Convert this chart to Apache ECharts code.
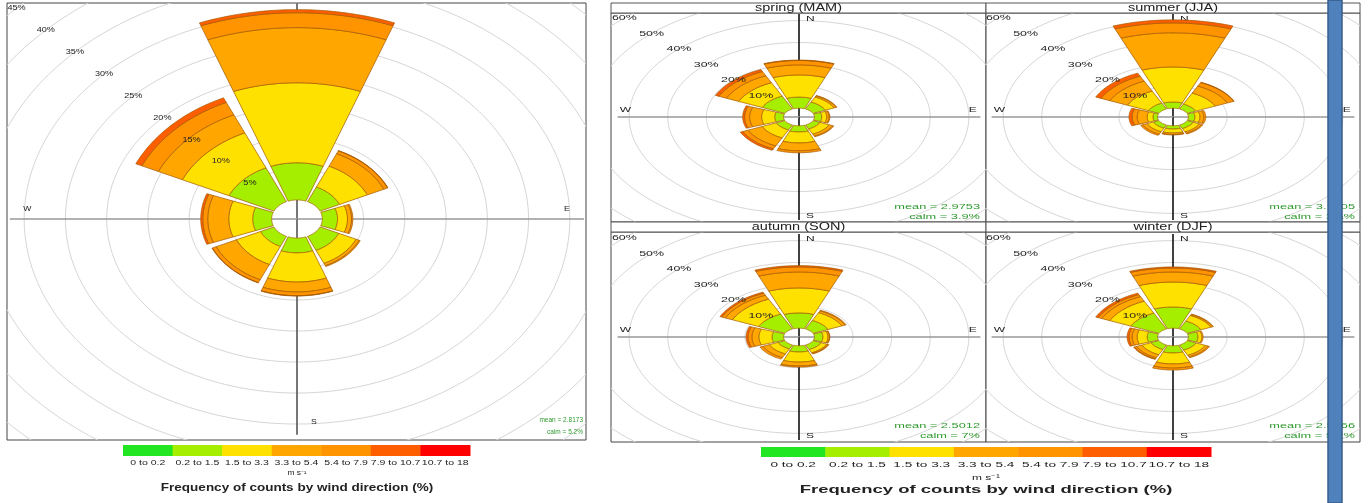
<!DOCTYPE html>
<html><head><meta charset="utf-8">
<script src="https://cdn.jsdelivr.net/npm/echarts@6/dist/echarts.min.js"></script>
<style>html,body{margin:0;padding:0;background:#fff}#c{width:1371px;height:503px}</style>
</head><body><div id="c"></div>
<script>
// ---------------- DATA ----------------
const directions = [0, 45, 90, 135, 180, 225, 270, 315]; // N NE E SE S SW W NW
const speedBins = ['0 to 0.2', '0.2 to 1.5', '1.5 to 3.3', '3.3 to 5.4', '5.4 to 7.9', '7.9 to 10.7', '10.7 to 18'];
const compassNames = ['N', 'E', 'S', 'W'];
const compassDirs = [0, 90, 180, 270];

// whole-year rose (% frequency per direction, by speed bin)
const all_0_02   = [0, 0, 0, 0, 0, 0, 0, 0];
const all_02_15  = [6.0, 2.6, 1.85, 2.5, 2.4, 1.8, 2.3, 6.0];
const all_15_33  = [12.9, 3.7, 1.2, 2.3, 4.7, 3.2, 2.9, 6.2];
const all_33_54  = [8.9, 2.2, 0.5, 0.4, 1.6, 2.7, 2.55, 3.2];
const all_54_79  = [2.4, 0.5, 0.15, 0.15, 0.6, 0.5, 0.6, 2.2];
const all_79_107 = [0.5, 0.05, 0, 0, 0.05, 0.05, 0.25, 0.8];

const spr_02_15  = [5.1, 3.5, 1.9, 2.0, 2.85, 2.5, 2.3, 6.5];
const spr_15_33  = [10.1, 2.5, 1.3, 2.6, 5.0, 4.0, 3.4, 6.7];
const spr_33_54  = [4.6, 0.6, 0.6, 1.0, 3.6, 4.0, 3.1, 3.5];
const spr_54_79  = [2.0, 0.2, 0.2, 0.3, 0.9, 1.5, 1.3, 2.1];
const spr_79_107 = [0.2, 0, 0, 0, 0, 0.7, 0.5, 1.0];

const sum_02_15  = [2.85, 2.5, 1.7, 1.8, 1.5, 1.6, 1.2, 3.0];
const sum_15_33  = [16.0, 5.5, 1.3, 1.7, 1.8, 1.8, 1.5, 6.0];
const sum_33_54  = [15.6, 3.5, 1.0, 0.7, 0.7, 1.2, 2.6, 5.0];
const sum_54_79  = [4.5, 1.8, 0.5, 0.3, 0.2, 0.6, 1.3, 2.5];
const sum_79_107 = [1.4, 0.1, 0, 0, 0, 0, 0.8, 1.5];

const aut_02_15  = [7.0, 4.3, 2.2, 2.3, 2.85, 2.0, 3.0, 7.5];
const aut_15_33  = [11.4, 3.9, 1.3, 1.6, 4.6, 2.5, 3.4, 7.5];
const aut_33_54  = [7.3, 0.9, 0.4, 0.4, 1.8, 1.8, 1.8, 2.0];
const aut_54_79  = [2.3, 0.3, 0.1, 0.2, 0.5, 0.8, 1.0, 1.0];
const aut_79_107 = [0.6, 0, 0, 0, 0, 0, 0.5, 0.5];

const win_02_15  = [9.7, 4.0, 2.5, 2.6, 3.3, 2.3, 2.7, 8.0];
const win_15_33  = [11.4, 2.8, 1.0, 2.6, 5.0, 2.6, 2.6, 6.0];
const win_33_54  = [4.6, 0.5, 0.3, 0.8, 1.9, 1.5, 1.3, 2.3];
const win_54_79  = [1.8, 0.2, 0, 0.4, 0.9, 0.6, 0.8, 1.0];
const win_79_107 = [0.5, 0, 0, 0, 0, 0.2, 0.5, 0.7];

const allRingLevels = [5, 10, 15, 20, 25, 30, 35, 40, 45, 50];
const allRingLabels = ['5%', '10%', '15%', '20%', '25%', '30%', '35%', '40%', '45%', '50%'];
const seasonRingLevels = [10, 20, 30, 40, 50, 60, 70];
const seasonRingLabels = ['10%', '20%', '30%', '40%', '50%', '60%', '70%'];

const seasonNames = ['spring (MAM)', 'summer (JJA)', 'autumn (SON)', 'winter (DJF)'];
const allMean = 'mean = 2.8173', allCalm = 'calm = 5.2%';
const seasonMeans = ['mean = 2.9753', 'mean = 3.1505', 'mean = 2.5012', 'mean = 2.5866'];
const seasonCalms = ['calm = 3.9%', 'calm = 3.6%', 'calm = 7%', 'calm = 5.2%'];
const legendTitle = 'Frequency of counts by wind direction (%)';
const unitLabel = 'm s\u207B\u00B9';

// ---------------- STYLE / LAYOUT ----------------
const binColors = ['#22e622', '#a6ee00', '#ffe100', '#ffa600', '#ff9400', '#ff5e00', '#ff0000'];
const HW = 20.5; // half sector width, degrees
const FONT = 'Liberation Sans, Arial, sans-serif';

const panels = [
  {box: [7, 3, 579, 437], c: [297, 219], sx: 8.25, sy: 6.2, off: 3.07, ext: 34.8, compR: 32.7,
   rings: allRingLevels, ringLabels: allRingLabels, ringFont: 6.5, ringScale: 1.4,
   compFont: 7.5, compScale: 1.15, nsDx: 14, weDy: 6, vColor: '#555', hColor: '#999',
   bins: [[0, all_0_02], [1, all_02_15], [2, all_15_33], [3, all_33_54], [4, all_54_79], [5, all_79_107]]},
  {box: [611, 13, 375, 209], c: [799, 117], sx: 3.86, sy: 2.19, off: 4.0, ext: 47, compR: 45,
   rings: seasonRingLevels, ringLabels: seasonRingLabels, ringFont: 8, ringScale: 1.55,
   compFont: 7.5, compScale: 1.6, nsDx: 7, weDy: 3, vColor: '#111', hColor: '#999',
   bins: [[1, spr_02_15], [2, spr_15_33], [3, spr_33_54], [4, spr_54_79], [5, spr_79_107]]},
  {box: [986, 13, 374, 209], c: [1173, 117], sx: 3.86, sy: 2.19, off: 4.0, ext: 47, compR: 45,
   rings: seasonRingLevels, ringLabels: seasonRingLabels, ringFont: 8, ringScale: 1.55,
   compFont: 7.5, compScale: 1.6, nsDx: 7, weDy: 3, vColor: '#111', hColor: '#999',
   bins: [[1, sum_02_15], [2, sum_15_33], [3, sum_33_54], [4, sum_54_79], [5, sum_79_107]]},
  {box: [611, 232, 375, 210], c: [799, 337], sx: 3.86, sy: 2.19, off: 4.0, ext: 47, compR: 45,
   rings: seasonRingLevels, ringLabels: seasonRingLabels, ringFont: 8, ringScale: 1.55,
   compFont: 7.5, compScale: 1.6, nsDx: 7, weDy: 3, vColor: '#111', hColor: '#999',
   bins: [[1, aut_02_15], [2, aut_15_33], [3, aut_33_54], [4, aut_54_79], [5, aut_79_107]]},
  {box: [986, 232, 374, 210], c: [1173, 337], sx: 3.86, sy: 2.19, off: 4.0, ext: 47, compR: 45,
   rings: seasonRingLevels, ringLabels: seasonRingLabels, ringFont: 8, ringScale: 1.55,
   compFont: 7.5, compScale: 1.6, nsDx: 7, weDy: 3, vColor: '#111', hColor: '#999',
   bins: [[1, win_02_15], [2, win_15_33], [3, win_33_54], [4, win_54_79], [5, win_79_107]]}
];

function buildBars(bins) {
  const out = [];
  directions.forEach((d, i) => {
    let cum = 0;
    bins.forEach(([b, vals]) => {
      const v = vals[i];
      if (v > 0) { out.push([d, cum, cum + v, b]); cum += v; }
    });
  });
  return out;
}

const grids = [], xAxes = [], yAxes = [], series = [];
const rad = Math.PI / 180;

panels.forEach((p, i) => {
  const [l, t, w, h] = p.box;
  grids.push({left: l, top: t, width: w, height: h, show: true, borderColor: '#444', borderWidth: 1, backgroundColor: '#fff'});
  xAxes.push({gridIndex: i, type: 'value', show: false, min: (l - p.c[0]) / p.sx, max: (l + w - p.c[0]) / p.sx});
  yAxes.push({gridIndex: i, type: 'value', show: false, min: (p.c[1] - (t + h)) / p.sy, max: (p.c[1] - t) / p.sy});
  const common = {type: 'custom', coordinateSystem: 'cartesian2d', xAxisIndex: i, yAxisIndex: i, clip: true, silent: true, animation: false};

  // rings
  series.push(Object.assign({}, common, {z: 1, data: p.rings.map(v => [v]),
    renderItem: (params, api) => {
      const R = p.rings[params.dataIndex] + p.off, pts = [];
      for (let k = 0; k <= 180; k++) { const a = k * 2 * Math.PI / 180; pts.push(api.coord([R * Math.sin(a), R * Math.cos(a)])); }
      return {type: 'polyline', shape: {points: pts}, style: {stroke: '#d6d6d6', lineWidth: 1, fill: null}};
    }}));
  // axis lines
  series.push(Object.assign({}, common, {z: 2, data: compassDirs.map(d => [d]),
    renderItem: (params, api) => {
      const d = compassDirs[params.dataIndex] * rad;
      const a = api.coord([0, 0]), b = api.coord([p.ext * Math.sin(d), p.ext * Math.cos(d)]);
      const vert = params.dataIndex % 2 === 0;
      return {type: 'line', shape: {x1: a[0], y1: a[1], x2: b[0], y2: b[1]}, style: {stroke: vert ? p.vColor : p.hColor, lineWidth: 1.6}};
    }}));
  // compass letters
  series.push(Object.assign({}, common, {z: 2, data: compassDirs.map(d => [d]),
    renderItem: (params, api) => {
      const d = compassDirs[params.dataIndex] * rad;
      const pt = api.coord([p.compR * Math.sin(d), p.compR * Math.cos(d)]);
      const vert = params.dataIndex % 2 === 0;
      return {type: 'text', x: vert ? pt[0] + p.nsDx : pt[0], y: vert ? pt[1] : pt[1] - p.weDy, scaleX: p.compScale,
        style: {text: compassNames[params.dataIndex], fill: '#222', font: p.compFont + 'px ' + FONT,
          align: vert ? 'left' : 'center', textAlign: vert ? 'left' : 'center',
          verticalAlign: vert ? 'middle' : 'bottom', textVerticalAlign: vert ? 'middle' : 'bottom'}};
    }}));
  // bars
  series.push(Object.assign({}, common, {z: 3, data: buildBars(p.bins),
    renderItem: (params, api) => {
      const d = api.value(0), r0 = api.value(1) + p.off, r1 = api.value(2) + p.off, b = api.value(3);
      const pts = [], n = 30;
      for (let k = 0; k <= n; k++) { const a = (d - HW + 2 * HW * k / n) * rad; pts.push(api.coord([r1 * Math.sin(a), r1 * Math.cos(a)])); }
      for (let k = n; k >= 0; k--) { const a = (d - HW + 2 * HW * k / n) * rad; pts.push(api.coord([r0 * Math.sin(a), r0 * Math.cos(a)])); }
      return {type: 'polygon', shape: {points: pts}, style: {fill: binColors[b], stroke: '#a35a00', lineWidth: 0.7}};
    }}));
  // ring percentage labels (at 315 deg)
  series.push(Object.assign({}, common, {z: 4, data: p.rings.map(v => [v]),
    renderItem: (params, api) => {
      const R = p.rings[params.dataIndex] + p.off, a = 315 * rad;
      const pt = api.coord([R * Math.sin(a), R * Math.cos(a)]);
      return {type: 'text', x: pt[0], y: pt[1], scaleX: p.ringScale,
        style: {text: p.ringLabels[params.dataIndex], fill: '#222', font: p.ringFont + 'px ' + FONT,
          align: 'center', textAlign: 'center', verticalAlign: 'middle', textVerticalAlign: 'middle'}};
    }}));
});

// ---------------- GRAPHIC (strips, keys, notes) ----------------
function txt(x, y, text, size, scale, opts) {
  opts = opts || {};
  return {type: 'text', x: x, y: y, scaleX: scale, z: 50,
    style: {text: text, fill: opts.fill || '#222', font: (opts.bold ? 'bold ' : '') + size + 'px ' + FONT,
      align: opts.align || 'center', textAlign: opts.align || 'center',
      verticalAlign: 'middle', textVerticalAlign: 'middle'}};
}
const graphic = [];
// strips
const stripBoxes = [[611, 3], [986, 3], [611, 222], [986, 222]];
stripBoxes.forEach((s, i) => {
  const w = i % 2 === 0 ? 375 : 374;
  graphic.push({type: 'rect', z: 40, shape: {x: s[0], y: s[1], width: w, height: 10}, style: {fill: '#fff', stroke: '#555', lineWidth: 1}});
  graphic.push(txt(s[0] + w / 2, s[1] + 5.5, seasonNames[i], 10, 1.45));
});
// mean / calm notes
graphic.push(txt(583, 420, allMean, 6.5, 1.0, {align: 'right', fill: '#2e9a2e'}));
graphic.push(txt(583, 432, allCalm, 6.5, 1.0, {align: 'right', fill: '#2e9a2e'}));
const noteX = [980, 1355, 980, 1355], noteY = [207, 207, 426, 426];
seasonMeans.forEach((m, i) => {
  graphic.push(txt(noteX[i], noteY[i], m, 8, 1.6, {align: 'right', fill: '#2e9a2e'}));
  graphic.push(txt(noteX[i], noteY[i] + 10, seasonCalms[i], 8, 1.6, {align: 'right', fill: '#2e9a2e'}));
});
// colour keys
function key(x0, x1, y, h, labY, labSize, labScale, unitY, unitSize, unitScale, titY, titSize, titScale, cx) {
  const bw = (x1 - x0) / speedBins.length;
  speedBins.forEach((s, i) => {
    graphic.push({type: 'rect', z: 40, shape: {x: x0 + i * bw, y: y, width: bw + 0.5, height: h}, style: {fill: binColors[i]}});
    graphic.push(txt(x0 + (i + 0.5) * bw, labY, s, labSize, labScale));
  });
  graphic.push(txt(cx, unitY, unitLabel, unitSize, unitScale));
  graphic.push(txt(cx, titY, legendTitle, titSize, titScale, {bold: true}));
}
key(123, 470, 445, 11, 463, 7, 1.5, 473, 6.5, 1.3, 488, 10, 1.35, 297);
key(761, 1211, 447, 10, 465, 8, 1.7, 478, 7.5, 1.6, 490, 11, 1.68, 986);
// blue bar on the right
graphic.push({type: 'rect', z: 60, shape: {x: 1328, y: 0, width: 14, height: 503}, style: {fill: '#4f81bd', stroke: '#385d8a', lineWidth: 1.5}});

const chart = echarts.init(document.getElementById('c'), null, {renderer: 'canvas', width: 1371, height: 503});
chart.setOption({
  animation: false,
  backgroundColor: '#fff',
  grid: grids, xAxis: xAxes, yAxis: yAxes, series: series, graphic: graphic
});
</script></body></html>
